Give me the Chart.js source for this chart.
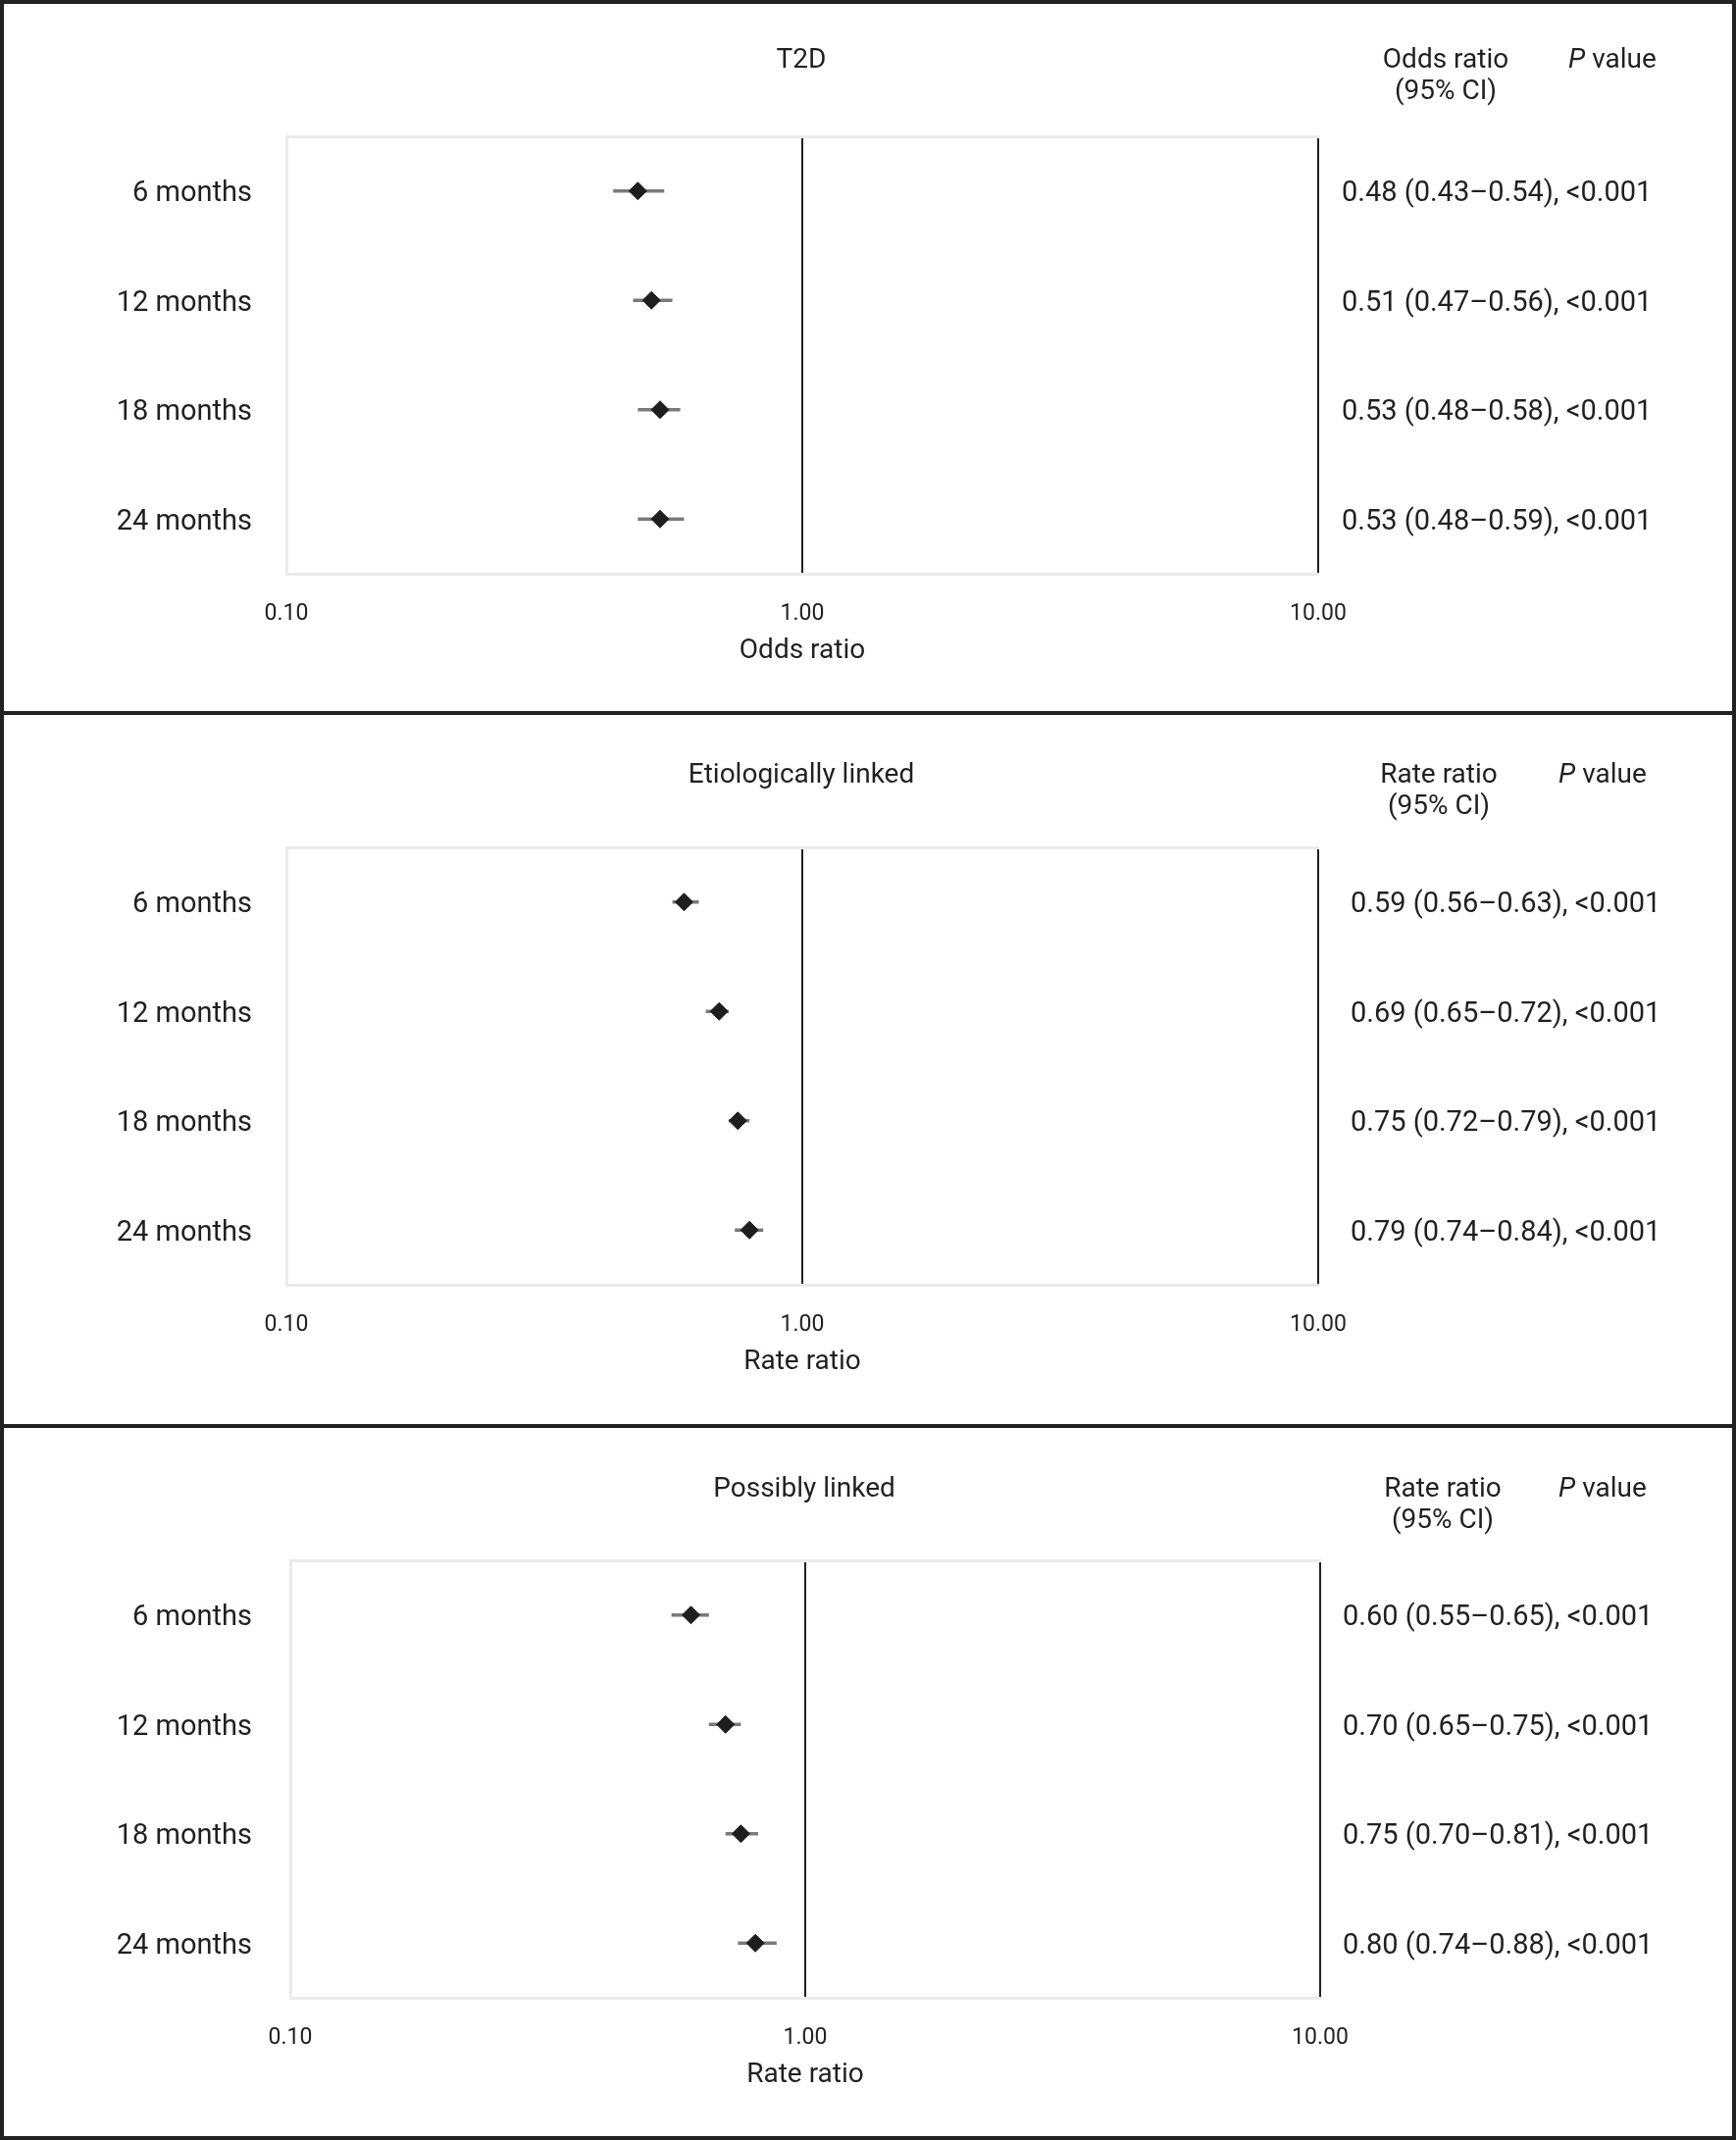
<!DOCTYPE html>
<html lang="en">
<head>
<meta charset="UTF-8">
<title>Forest plots</title>
<script src="https://cdn.jsdelivr.net/npm/chart.js"></script>
<style>
  body { margin: 0; background: #fff; }
  .figure { width: 1770px; height: 2182px; box-sizing: border-box; border: 4px solid #222; }
  .panel + .panel { border-top: 4px solid #222; }
  canvas { display: block; }
</style>
</head>
<body>
<div class="figure">
  <div class="panel"><canvas id="c1" width="1762" height="721"></canvas></div>
  <div class="panel"><canvas id="c2" width="1762" height="723"></canvas></div>
  <div class="panel"><canvas id="c3" width="1762" height="722"></canvas></div>
</div>
<script>
// rows and axis
const periods = ['6 months', '12 months', '18 months', '24 months'];
const xTicks = [0.1, 1, 10];

// T2D (odds ratio)
const t2dRatio = [0.48, 0.51, 0.53, 0.53];
const t2dLow = [0.43, 0.47, 0.48, 0.48];
const t2dHigh = [0.54, 0.56, 0.58, 0.59];
const t2dP = ['<0.001', '<0.001', '<0.001', '<0.001'];

// Etiologically linked (rate ratio)
const etioRatio = [0.59, 0.69, 0.75, 0.79];
const etioLow = [0.56, 0.65, 0.72, 0.74];
const etioHigh = [0.63, 0.72, 0.79, 0.84];
const etioP = ['<0.001', '<0.001', '<0.001', '<0.001'];

// Possibly linked (rate ratio)
const possRatio = [0.60, 0.70, 0.75, 0.80];
const possLow = [0.55, 0.65, 0.70, 0.74];
const possHigh = [0.65, 0.75, 0.81, 0.88];
const possP = ['<0.001', '<0.001', '<0.001', '<0.001'];

const ink = '#231f20';
const frame = '#ebebeb';
const family = 'Roboto, "Liberation Sans", sans-serif';

const panels = [
  { id: 'c1', title: 'T2D', measure: 'Odds ratio', ratio: t2dRatio, low: t2dLow, high: t2dHigh, p: t2dP,
    left: 288, right: 1340, titleY: 58, textX: 1364, measureX: 1470, pX: 1640 },
  { id: 'c2', title: 'Etiologically linked', measure: 'Rate ratio', ratio: etioRatio, low: etioLow, high: etioHigh, p: etioP,
    left: 288, right: 1340, titleY: 62, textX: 1373, measureX: 1463, pX: 1630 },
  { id: 'c3', title: 'Possibly linked', measure: 'Rate ratio', ratio: possRatio, low: possLow, high: possHigh, p: possP,
    left: 292, right: 1342, titleY: 63, textX: 1365, measureX: 1467, pX: 1630 }
];

const fmt = v => v.toFixed(2);

// titles, column headers and the estimate text on the right
const panelText = {
  id: 'panelText',
  afterDraw(chart, args, o) {
    const { ctx, scales: { x, y } } = chart;
    ctx.save();
    ctx.fillStyle = ink;
    ctx.textBaseline = 'middle';
    ctx.textAlign = 'center';
    ctx.font = '28px ' + family;
    ctx.fillText(o.title, x.getPixelForValue(1) - 1, o.titleY);
    ctx.fillText(o.measure, o.measureX, o.titleY);
    ctx.fillText('(95% CI)', o.measureX, o.titleY + 32);

    // "P value" with italic P
    ctx.textAlign = 'left';
    ctx.font = 'italic 28px ' + family;
    const wP = ctx.measureText('P').width;
    ctx.font = '28px ' + family;
    const wRest = ctx.measureText(' value').width;
    const start = o.pX - (wP + wRest) / 2;
    ctx.font = 'italic 28px ' + family;
    ctx.fillText('P', start, o.titleY);
    ctx.font = '28px ' + family;
    ctx.fillText(' value', start + wP, o.titleY);

    ctx.font = '29px ' + family;
    periods.forEach((lbl, i) => {
      const s = fmt(o.ratio[i]) + ' (' + fmt(o.low[i]) + '\u2013' + fmt(o.high[i]) + '), ' + o.p[i];
      ctx.fillText(s, o.textX, y.getPixelForValue(i) + 3);
    });
    ctx.restore();
  }
};

panels.forEach(pn => {
  const canvas = document.getElementById(pn.id);
  const H = canvas.height;
  const W = canvas.width;
  const plotTop = 135;
  const plotBottom = 581;

  const ciSets = periods.map((lbl, i) => ({
    type: 'line',
    data: [{ x: pn.low[i], y: lbl }, { x: pn.high[i], y: lbl }],
    borderColor: '#7a7a7a',
    borderWidth: 3.5,
    pointRadius: 0,
    order: 2
  }));

  new Chart(canvas, {
    type: 'scatter',
    data: {
      labels: periods,
      datasets: [
        ...ciSets,
        {
          data: periods.map((lbl, i) => ({ x: pn.ratio[i], y: lbl })),
          pointStyle: 'rectRot',
          pointRadius: 9,
          backgroundColor: '#1e1e1e',
          borderColor: '#1e1e1e',
          borderWidth: 1,
          order: 1
        }
      ]
    },
    options: {
      responsive: false,
      animation: false,
      devicePixelRatio: 1,
      layout: { padding: { top: plotTop, right: W - pn.right, left: 0, bottom: 0 } },
      plugins: {
        legend: { display: false },
        tooltip: { enabled: false },
        panelText: pn
      },
      scales: {
        x: {
          type: 'logarithmic',
          min: 0.1,
          max: 10,
          afterBuildTicks: s => { s.ticks = xTicks.map(v => ({ value: v })); },
          afterFit: s => { s.height = H - plotBottom; },
          ticks: {
            callback: v => fmt(v),
            font: { family: family, size: 23 },
            color: ink,
            padding: 27,
            maxRotation: 0
          },
          grid: {
            drawTicks: false,
            color: c => (c.tick && c.tick.value === 0.1) ? 'rgba(0,0,0,0)' : ink,
            lineWidth: 2
          },
          border: { color: frame, width: 3 },
          title: {
            display: true,
            text: pn.measure,
            color: ink,
            font: { family: family, size: 28 },
            padding: { top: 0, bottom: H - 660 - 16.8 }
          }
        },
        x2: {
          type: 'logarithmic',
          position: 'top',
          min: 0.1,
          max: 10,
          afterFit: s => { s.height = 0; },
          ticks: { display: false },
          grid: { display: false },
          border: { color: frame, width: 3 }
        },
        y: {
          type: 'category',
          labels: periods,
          offset: true,
          afterFit: s => { s.width = pn.left; },
          ticks: {
            font: { family: family, size: 29 },
            color: ink,
            padding: pn.left - 253,
            labelOffset: 3
          },
          grid: { display: false, drawTicks: false },
          border: { color: frame, width: 3 }
        }
      }
    },
    plugins: [panelText]
  });
});
</script>
</body>
</html>
